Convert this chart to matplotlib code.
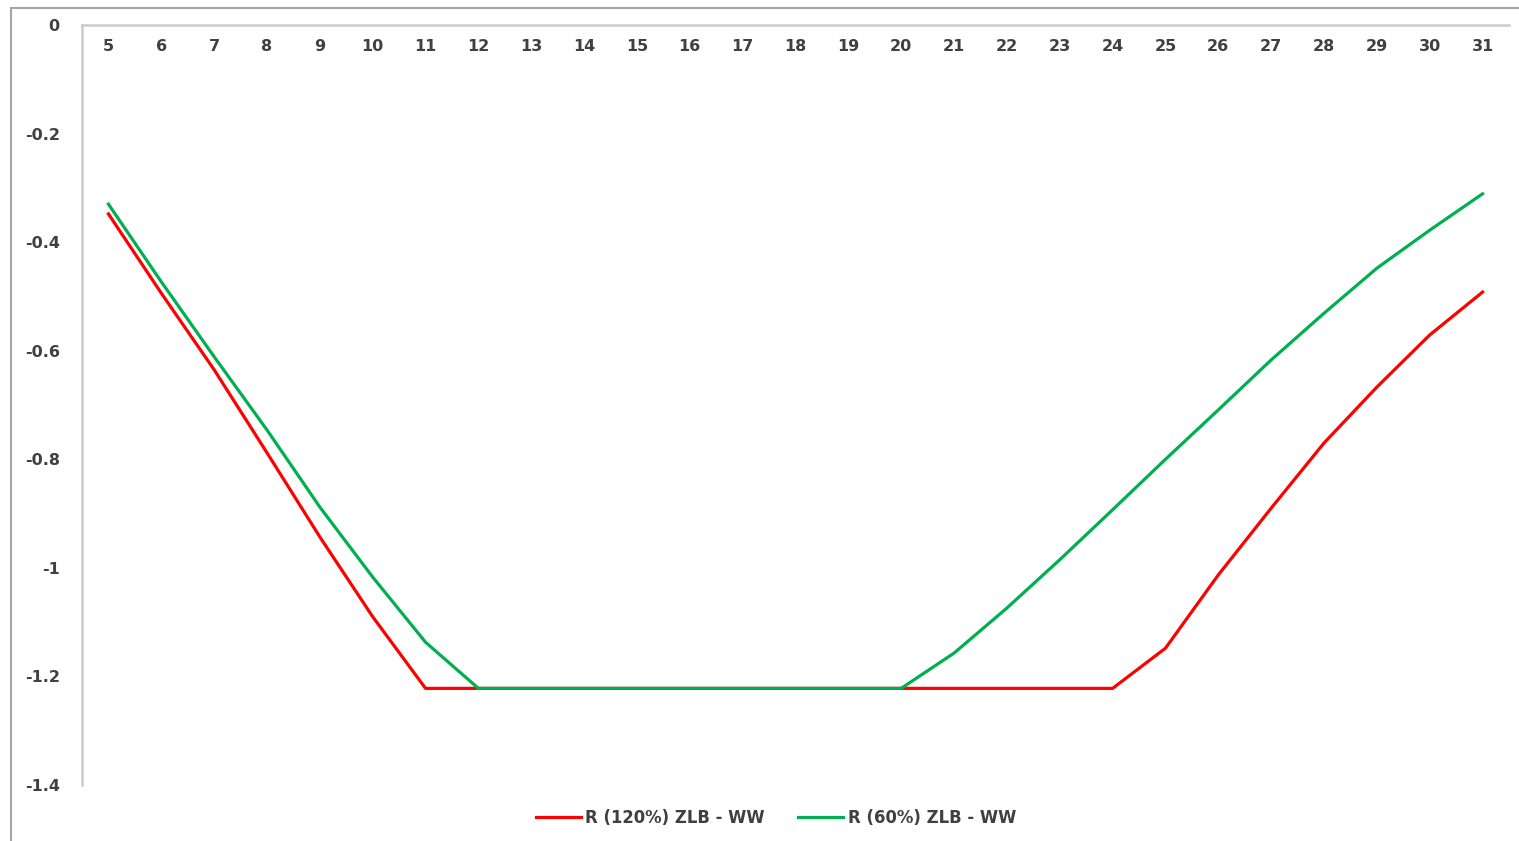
import matplotlib
matplotlib.use("Agg")
import matplotlib.pyplot as plt
from matplotlib.lines import Line2D

categories = list(range(5, 32))
red_120 = [-0.348, -0.494, -0.635, -0.788, -0.943, -1.090, -1.222, -1.222, -1.222,
           -1.222, -1.222, -1.222, -1.222, -1.222, -1.222, -1.222, -1.222, -1.222,
           -1.222, -1.222, -1.148, -1.013, -0.890, -0.770, -0.667, -0.571, -0.492]
green_60 = [-0.330, -0.473, -0.611, -0.746, -0.888, -1.017, -1.137, -1.222, -1.222,
            -1.222, -1.222, -1.222, -1.222, -1.222, -1.222, -1.222, -1.157, -1.074,
            -0.985, -0.893, -0.800, -0.709, -0.617, -0.531, -0.448, -0.378, -0.311]
yticks = [0, -0.2, -0.4, -0.6, -0.8, -1, -1.2, -1.4]
ytick_labels = ["0", "-0.2", "-0.4", "-0.6", "-0.8", "-1", "-1.2", "-1.4"]
series_names = ["R (120%) ZLB - WW", "R (60%) ZLB - WW"]

plt.rcParams['font.family'] = ['DejaVu Sans']

W, H = 1519, 841
fig = plt.figure(figsize=(W / 100, H / 100), dpi=100)
fig.patch.set_facecolor('white')

# outer frame lines
fig.add_artist(Line2D([11 / W, 11 / W], [0, 1 - 8 / H], color='#a6a6a6', lw=1.5,
                      transform=fig.transFigure))
fig.add_artist(Line2D([11 / W, 1], [1 - 8 / H, 1 - 8 / H], color='#a6a6a6', lw=1.5,
                      transform=fig.transFigure))

ax = fig.add_axes([82 / W, 1 - 785 / H, (1509 - 82) / W, (785 - 25) / H])
ax.plot(categories, red_120, color='#ff0000', lw=2.3, label=series_names[0])
ax.plot(categories, green_60, color='#00b050', lw=2.3, label=series_names[1])

ax.set_xlim(4.5, 31.5)
ax.set_ylim(-1.4, 0)
ax.set_yticks(yticks)
ax.set_yticklabels(ytick_labels)
ax.set_xticks(categories)
ax.set_xticklabels([str(c) for c in categories])

for s in ['right', 'bottom']:
    ax.spines[s].set_visible(False)
for s in ['left', 'top']:
    ax.spines[s].set_color('#cccccc')
    ax.spines[s].set_linewidth(1.8)

ax.tick_params(axis='x', top=True, labeltop=True, bottom=False, labelbottom=False,
               length=0, pad=-21, labelsize=11.5, labelcolor='#404040')
ax.tick_params(axis='y', length=0, pad=16, labelsize=11.5, labelcolor='#404040')
for lbl in ax.get_xticklabels() + ax.get_yticklabels():
    lbl.set_fontweight('bold')

leg = fig.legend(loc='center', bbox_to_anchor=(776 / W, 1 - 818 / H), ncol=2,
                 frameon=False, handlelength=2.7, handletextpad=0.3,
                 columnspacing=2.0, fontsize=11.9)
for t in leg.get_texts():
    t.set_color('#404040')
    t.set_fontweight('bold')

fig.savefig('out.png', dpi=100)
